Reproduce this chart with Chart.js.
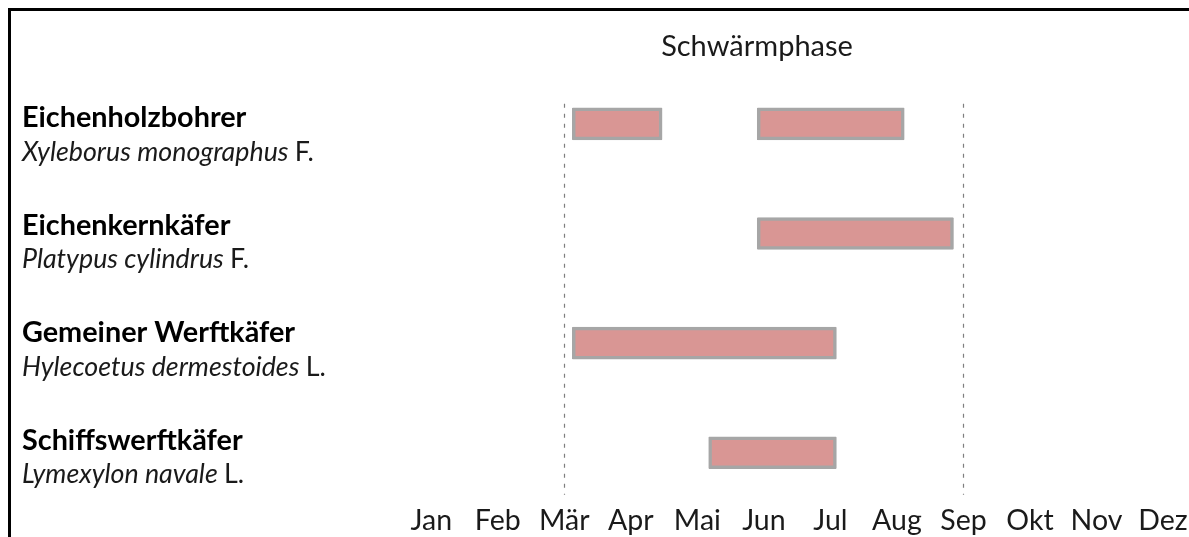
<!DOCTYPE html>
<html>
<head>
<meta charset="utf-8">
<script src="https://cdn.jsdelivr.net/npm/chart.js@4/dist/chart.umd.min.js"></script>
<style>
  html, body { margin: 0; padding: 0; background: #fff; }
  #wrap { position: relative; width: 1189px; height: 537px; }
</style>
</head>
<body>
<div id="wrap"><canvas id="chart" width="1189" height="537"></canvas></div>
<script>
// Daten: Schwärmphase je Art (Monatsindex, Jan = 0)
const species = ['Eichenholzbohrer', 'Eichenkernkäfer', 'Gemeiner Werftkäfer', 'Schiffswerftkäfer'];
const latinNames = ['Xyleborus monographus', 'Platypus cylindrus', 'Hylecoetus dermestoides', 'Lymexylon navale'];
const authors = ['F.', 'F.', 'L.', 'L.'];
const months = ['Jan', 'Feb', 'Mär', 'Apr', 'Mai', 'Jun', 'Jul', 'Aug', 'Sep', 'Okt', 'Nov', 'Dez'];

const phase1Start = [2.12, 4.90, 2.12, 4.17];
const phase1End   = [3.47, 7.85, 6.09, 6.09];
const phase2Start = [4.90, null, null, null];
const phase2End   = [7.11, null, null, null];

const markerMonths = [2, 8]; // gestrichelte Linien Mär / Sep
const titleText = 'Schwärmphase';

const FONT = 'Lato, "Open Sans", sans-serif';
const barFill = '#d99694';
const barBorder = '#a6a6a6';

const toRange = (s, e) => s.map((v, i) => (v === null ? null : [v, e[i]]));

const barStyle = {
    grouped: false,
    barThickness: 32,
    backgroundColor: barFill,
    borderColor: barBorder,
    borderWidth: 3.5,
    borderSkipped: false,
    borderRadius: 1
};

// Rahmen, Titel, gestrichelte Linien und Artnamen
const decorPlugin = {
    id: 'decor',
    beforeDatasetsDraw(chart) {
        const ctx = chart.ctx;
        const xs = chart.scales.x;
        const ys = chart.scales.y;
        const top = ys.getPixelForValue(0) - 20;
        const bottom = ys.getPixelForValue(species.length - 1) + 42;
        ctx.save();
        ctx.strokeStyle = '#7f7f7f';
        ctx.lineWidth = 1.2;
        ctx.setLineDash([4, 6]);
        markerMonths.forEach(m => {
            const x = Math.round(xs.getPixelForValue(m)) + 0.5;
            ctx.beginPath();
            ctx.moveTo(x, top);
            ctx.lineTo(x, bottom);
            ctx.stroke();
        });
        ctx.restore();
    },
    afterDraw(chart) {
        const ctx = chart.ctx;
        ctx.save();
        // Rahmen oben und links
        ctx.fillStyle = '#000';
        ctx.fillRect(8, 8, chart.width - 8, 3);
        ctx.fillRect(8, 8, 3, chart.height - 8);

        // Titel
        ctx.fillStyle = '#1a1a1a';
        ctx.textAlign = 'center';
        ctx.textBaseline = 'middle';
        ctx.font = '29px ' + FONT;
        ctx.fillText(titleText, 757, 47);

        // Artnamen links
        ctx.textAlign = 'left';
        species.forEach((name, i) => {
            const yc = 118 + i * 107.5;
            ctx.fillStyle = '#000';
            ctx.font = 'bold 28.8px ' + FONT;
            ctx.fillText(name, 22, yc);
            ctx.font = 'italic 26.8px ' + FONT;
            ctx.fillStyle = '#1a1a1a';
            const latin = latinNames[i] + ' ';
            ctx.fillText(latin, 22, yc + 34);
            const w = ctx.measureText(latin).width;
            ctx.font = '26.8px ' + FONT;
            ctx.fillText(authors[i], 22 + w, yc + 34);
        });
        ctx.restore();
    }
};

new Chart(document.getElementById('chart'), {
    type: 'bar',
    data: {
        labels: species,
        datasets: [
            Object.assign({ label: 'Phase 1', data: toRange(phase1Start, phase1End) }, barStyle),
            Object.assign({ label: 'Phase 2', data: toRange(phase2Start, phase2End) }, barStyle)
        ]
    },
    options: {
        indexAxis: 'y',
        responsive: false,
        animation: false,
        devicePixelRatio: 1,
        layout: { padding: { left: 398, right: 6, top: 69, bottom: 0 } },
        scales: {
            x: {
                type: 'linear',
                min: -0.5,
                max: 11.3,
                grid: { display: false, drawTicks: false, tickLength: 0 },
                border: { display: false },
                afterFit: scale => { scale.height = 29.4; },
                ticks: {
                    stepSize: 1,
                    autoSkip: false,
                    maxRotation: 0,
                    includeBounds: false,
                    padding: -4,
                    color: '#1a1a1a',
                    font: { family: FONT, size: 28.5 },
                    callback: v => (Number.isInteger(v) ? months[v] : '')
                }
            },
            y: {
                display: false
            }
        },
        plugins: {
            legend: { display: false },
            tooltip: { enabled: false },
            title: { display: false }
        }
    },
    plugins: [decorPlugin]
});
</script>
</body>
</html>
